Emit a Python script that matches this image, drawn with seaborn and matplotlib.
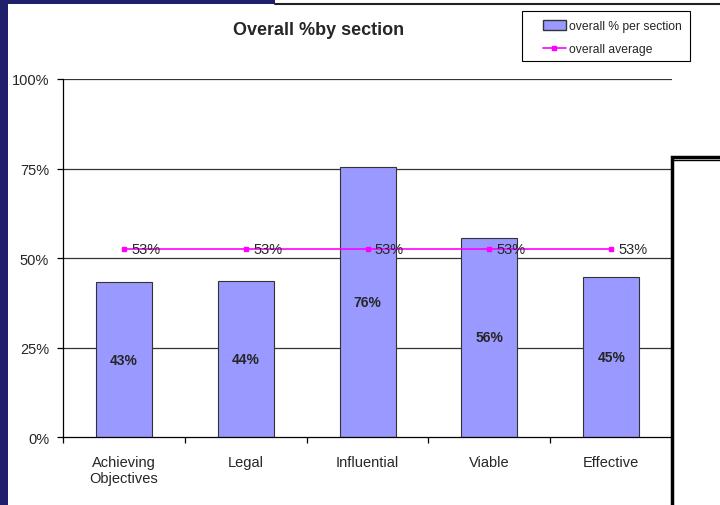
import matplotlib
matplotlib.use("Agg")
import matplotlib.pyplot as plt
import matplotlib.patches as mpatches
from matplotlib.lines import Line2D
import seaborn as sns
import pandas as pd

# data
sections = ["Achieving\nObjectives", "Legal", "Influential", "Viable", "Effective"]
section_pct = [43.3, 43.6, 75.5, 55.7, 44.8]
overall_avg = [52.6, 52.6, 52.6, 52.6, 52.6]
yticks = [0, 25, 50, 75, 100]

sns.set_style("white")
plt.rcParams["font.family"] = ["Liberation Sans", "DejaVu Sans"]

df = pd.DataFrame({"section": sections, "pct": section_pct, "avg": overall_avg})

fig = plt.figure(figsize=(7.2, 5.06), dpi=100)
fig.patch.set_facecolor("white")
ax = fig.add_axes([0.0875, 0.134, 0.846, 0.708])

# gridlines behind bars
for y in yticks[1:]:
    ax.axhline(y, color="#333333", lw=0.9, zorder=0)

sns.barplot(data=df, x="section", y="pct", color="#9999FF", width=0.46,
            edgecolor="#333333", linewidth=0.8, saturation=1, ax=ax, zorder=2)

ax.plot(range(len(sections)), df["avg"], color="#FF00FF", lw=1.2,
        marker="s", markersize=3.5, zorder=3)

for i, (v, a) in enumerate(zip(section_pct, overall_avg)):
    ax.text(i, v / 2, f"{round(v)}%", ha="center", va="center", fontsize=10,
            fontweight="bold", zorder=4)
    ax.text(i + 0.06, a, f"{round(a)}%", ha="left", va="center", fontsize=10.5, zorder=4)

ax.set_xlim(-0.5, len(sections) - 0.5)
ax.set_ylim(0, 100)
ax.set_yticks(yticks)
ax.set_yticklabels([f"{t}%" for t in yticks], fontsize=10.5)
ax.tick_params(axis="y", length=4, width=0.9, color="black", pad=6, left=True)
ax.set_xticks(range(len(sections)))
ax.set_xticklabels(sections, fontsize=10.5)
ax.tick_params(axis="x", length=0, pad=13)
ax.set_xticks([i - 0.5 for i in range(len(sections) + 1)], minor=True)
ax.tick_params(axis="x", which="minor", length=4, width=0.9, color="black", bottom=True)
ax.set_xlabel("")
ax.set_ylabel("")
for side in ["top", "right"]:
    ax.spines[side].set_visible(False)
for side in ["left", "bottom"]:
    ax.spines[side].set_color("black")
    ax.spines[side].set_linewidth(0.9)

fig.text(0.442, 0.94, "Overall %by section", ha="center", va="center",
         fontsize=13, fontweight="bold")

# legend: box drawn separately so the inner padding matches
fig.patches.append(mpatches.Rectangle((0.725, 0.8775), 0.233, 0.0988, transform=fig.transFigure,
                                      facecolor="white", edgecolor="black", lw=0.8, zorder=1))
handles = [mpatches.Patch(facecolor="#9999FF", edgecolor="#333333", label="overall % per section"),
           Line2D([0], [0], color="#FF00FF", marker="s", markersize=3.5, lw=1.2, label="overall average")]
leg = fig.legend(handles=handles, loc="upper left", bbox_to_anchor=(0.754, 0.958),
                 fontsize=8.7, frameon=False, handlelength=1.9, handleheight=0.8,
                 handletextpad=0.25, borderpad=0, labelspacing=0.9, borderaxespad=0)
leg.set_zorder(2)

# slide decorations around the chart
fig.patches.append(mpatches.Rectangle((0, 0), 0.0105, 1, transform=fig.transFigure,
                                      facecolor="#1F1F6B", edgecolor="none", zorder=5))
fig.patches.append(mpatches.Rectangle((0, 0.99), 0.382, 0.01, transform=fig.transFigure,
                                      facecolor="#1F1F6B", edgecolor="none", zorder=5))
fig.add_artist(Line2D([0.382, 1], [0.99, 0.99], transform=fig.transFigure,
                      color="#222222", lw=1.5))
fig.patches.append(mpatches.Rectangle((0.934, -0.01), 0.1, 0.697, transform=fig.transFigure,
                                      facecolor="white", edgecolor="black", lw=2.5, zorder=5))
fig.add_artist(Line2D([0.934, 1], [0.681, 0.681], transform=fig.transFigure,
                      color="black", lw=1.0, zorder=6))

fig.savefig("out.png", dpi=100)
